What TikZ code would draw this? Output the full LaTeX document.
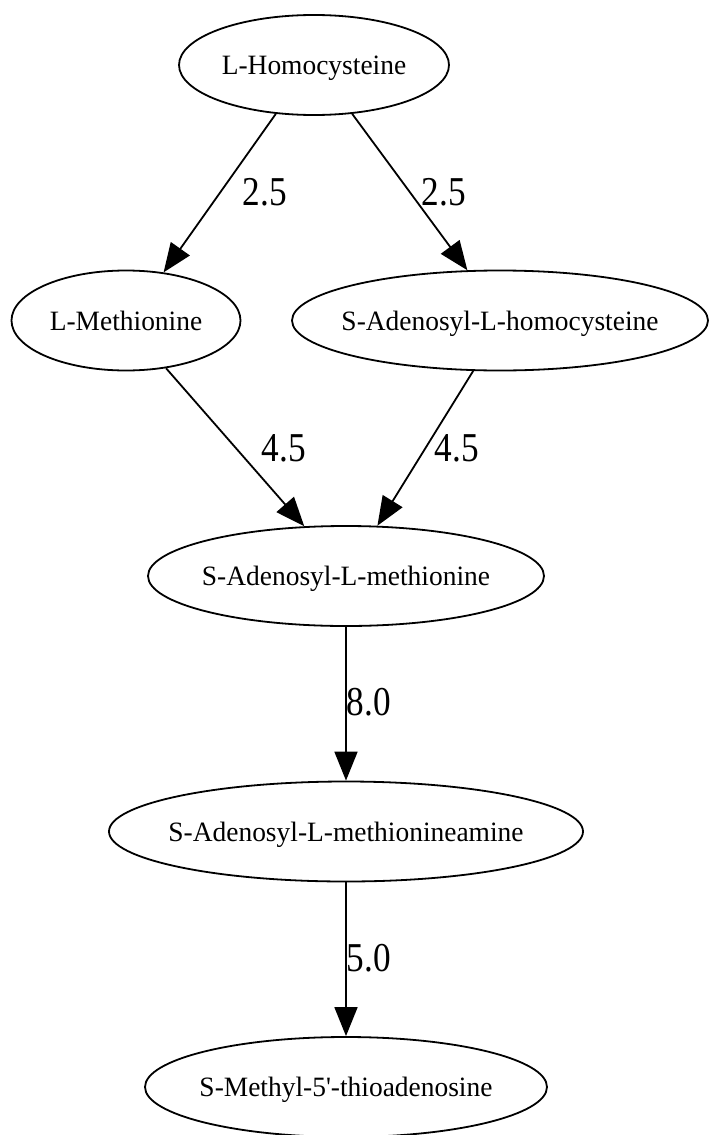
\documentclass[tikz,border=0pt]{standalone}
\usepackage{fontspec}
\setmainfont{Liberation Serif}
\newfontfamily\nodefont{Liberation Serif}[FakeStretch=0.98]
\newfontfamily\lblfont{Liberation Serif}[FakeStretch=0.86]
\usetikzlibrary{arrows.meta,shapes.geometric}
\tikzset{
  compound/.style={ellipse, draw=black, line width=1.8pt, inner sep=0pt,
    minimum height=100pt, text height=19pt, text depth=0pt,
    font=\nodefont\fontsize{28pt}{30pt}\selectfont},
  weight/.style={inner sep=0pt, font=\lblfont\fontsize{41pt}{43pt}\selectfont},
  rxn/.style={draw=black, line width=1.8pt, -{Triangle[length=29pt,width=23pt]}}
}
\newcommand{\cname}[1]{\makebox[0pt]{#1}}
\begin{document}
\begin{tikzpicture}[x=1pt,y=-1pt]
\useasboundingbox (0,0) rectangle (710,1135);
% compounds
\node[compound, minimum width=270pt] (hcy) at (314,65) {\cname{L-Homocysteine}};
\node[compound, minimum width=229pt] (met) at (126,320.5) {\cname{L-Methionine}};
\node[compound, minimum width=416pt] (sah) at (500,320.5) {\cname{S-Adenosyl-L-homocysteine}};
\node[compound, minimum width=396pt] (sam) at (346,576) {\cname{S-Adenosyl-L-methionine}};
\node[compound, minimum width=474pt] (dsam) at (346,831.5) {\cname{S-Adenosyl-L-methionineamine}};
\node[compound, minimum width=402pt] (mta) at (346,1087) {\cname{S-Methyl-5'-thioadenosine}};
% reactions
\draw[rxn] (hcy.232) -- (met.52);
\draw[rxn] (hcy.308) -- (sah.123.4);
\draw[rxn] (met.310.3) -- (sam.130.1);
\draw[rxn] (sah.242.8) -- (sam.58.2);
\draw[rxn] (sam.south) -- (dsam.north);
\draw[rxn] (dsam.south) -- (mta.north);
% weights
\node[weight] (w1) at (265,192) {2.5};
\node[weight] (w2) at (444,192) {2.5};
\node[weight] (w3) at (284,448) {4.5};
\node[weight] (w4) at (457,448) {4.5};
\node[weight] (w5) at (369,702) {8.0};
\node[weight] (w6) at (369,958) {5.0};
\end{tikzpicture}
\end{document}
